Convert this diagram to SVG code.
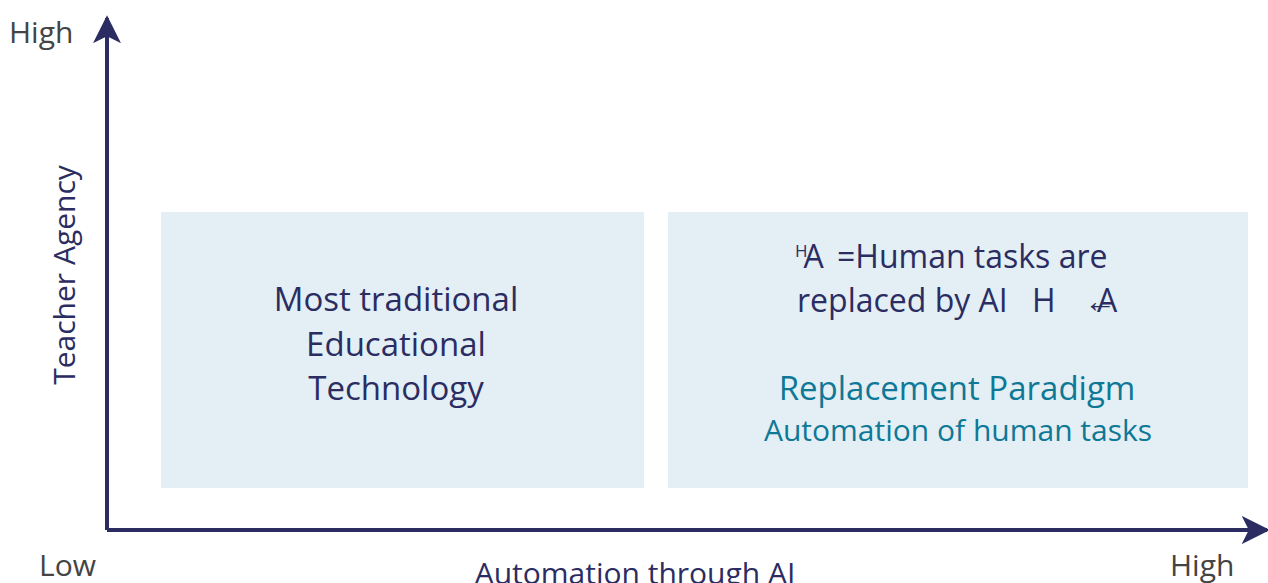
<svg xmlns="http://www.w3.org/2000/svg" width="1268" height="583" viewBox="0 0 1268 583">
<style>
.lbl{font-family:"Open Sans","Liberation Sans",sans-serif;fill:#444;font-size:30px}
.t{font-family:"Open Sans","Liberation Sans",sans-serif;fill:#2b2d62;font-size:33px;text-anchor:middle}
.ax30{font-family:"Open Sans","Liberation Sans",sans-serif;fill:#2b2d62;font-size:30px;text-anchor:middle}
.ts{font-family:"Open Sans","Liberation Sans",sans-serif;fill:#2b2d62;font-size:32px}
.tl{font-family:"Open Sans","Liberation Sans",sans-serif;fill:#0e7896;text-anchor:middle}
.box{fill:#e3eff4}
.ax{stroke:#2b2d62;stroke-width:4;fill:none}
</style>
<defs>
<marker id="ah" viewBox="0 0 20 20" refX="18" refY="10" markerWidth="7" markerHeight="7" markerUnits="strokeWidth" orient="auto">
<path d="M0,0 L20,10 L0,20 L5,10 Z" fill="#2b2d62"/>
</marker>
</defs>
<rect width="1268" height="583" fill="#fff"/>
<g id="connectors">
<path class="ax" d="M107,530 L107,18" marker-end="url(#ah)"/>
<path class="ax" d="M107,530 L1267,530" marker-end="url(#ah)"/>
</g>
<g id="axis-labels">
<text class="lbl" x="9" y="43">High</text>
<text class="lbl" x="39" y="576">Low</text>
<text class="lbl" x="1170" y="576">High</text>
<text class="ax30" x="635" y="584">Automation through AI</text>
<text class="ax30" transform="translate(75,275) rotate(-90)">Teacher Agency</text>
</g>
<g id="box-left">
<rect class="box" x="161" y="212" width="483" height="276"/>
<text class="t" x="396" y="311">Most traditional</text>
<text class="t" x="396" y="356">Educational</text>
<text class="t" x="396" y="400">Technology</text>
</g>
<g id="box-right">
<rect class="box" x="668" y="212" width="580" height="276"/>
<text class="ts" x="795" y="268"><tspan font-size="17" dy="-11">H</tspan><tspan dx="-4" dy="11">A</tspan><tspan x="837">=Human tasks are</tspan></text>
<text class="ts" x="797" y="312">replaced by AI<tspan x="1032">H</tspan><tspan x="1084">←</tspan><tspan dx="-19">A</tspan></text>
<text class="tl" x="957" y="400" style="font-size:33px">Replacement Paradigm</text>
<text class="tl" x="958" y="441" style="font-size:30px">Automation of human tasks</text>
</g>
</svg>
